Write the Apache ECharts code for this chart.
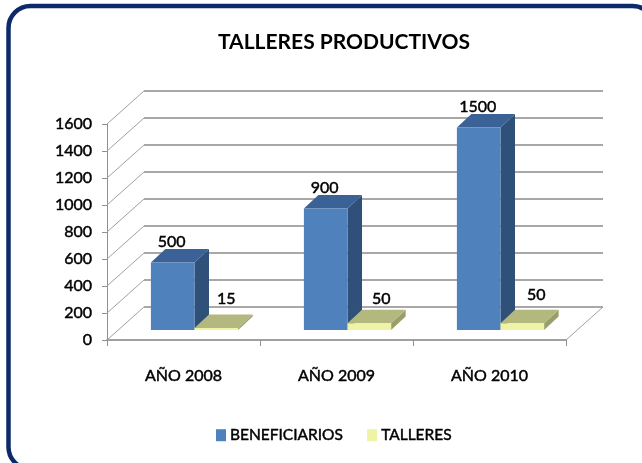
<!DOCTYPE html>
<html>
  <head>
    <meta charset="utf-8" />
    <title>Talleres productivos</title>
    <style>
      html, body { margin: 0; padding: 0; background: #fff; }
      #main { width: 642px; height: 463px; }
    </style>
    <script src="https://cdn.jsdelivr.net/npm/echarts@6/dist/echarts.min.js"></script>
  </head>
  <body>
    <div id="main"></div>
    <script>
      // datos
      var categories = ['AÑO 2008', 'AÑO 2009', 'AÑO 2010']
      var beneficiarios = [500, 900, 1500]
      var talleres = [15, 50, 50]
      var yTicks = [0, 200, 400, 600, 800, 1000, 1200, 1400, 1600]

      var FONT = 'Lato'
      // trazo fino para engordar el texto, Lato no tiene semibold aqui
      var TEXT_STROKE = 0.45
      // profundidad de la pared del fondo y de las barras (px)
      var WALL_DX = 37, WALL_DY = 33
      var FRONT_DX = 11, FRONT_DY = 10
      var DEPTH_DX = 14.5, DEPTH_DY = 13.5
      // ajuste manual de las etiquetas de cada serie
      var blueLabel = [[-1, -20.5], [-1, -20.5], [-1, -20.5]]
      var yellowLabel = [[10, -29.5], [12, -24.5], [14, -28]]

      function barItem(seriesIndex, colors, nudges) {
        return function (params, api) {
          var i = params.dataIndex
          var top = api.coord([i, api.value(1)])
          var base = api.coord([i, 0])
          var w = api.size([1, 0])[0] * 0.285
          var x0 = top[0] + FRONT_DX + (seriesIndex === 0 ? -w : 0)
          var x1 = x0 + w
          var yt = top[1] - FRONT_DY
          var yb = base[1] - FRONT_DY
          var dx = DEPTH_DX, dy = DEPTH_DY
          return {
            type: 'group',
            children: [
              { type: 'polygon', shape: { points: [[x1, yt], [x1 + dx, yt - dy], [x1 + dx, yb - dy], [x1, yb]] }, style: { fill: colors.side } },
              { type: 'polygon', shape: { points: [[x0, yt], [x0 + dx, yt - dy], [x1 + dx, yt - dy], [x1, yt]] }, style: { fill: colors.top } },
              { type: 'rect', shape: { x: x0, y: yt, width: w, height: yb - yt }, style: { fill: colors.front } },
              {
                type: 'text',
                x: (x0 + x1) / 2 + nudges[i][0],
                y: top[1] - FRONT_DY + nudges[i][1],
                style: {
                  text: String(api.value(1)),
                  fill: '#000',
                  stroke: '#000',
                  lineWidth: TEXT_STROKE,
                  font: '16px ' + FONT,
                  align: 'center',
                  verticalAlign: 'middle'
                }
              }
            ]
          }
        }
      }

      var blue = { front: '#4F81BD', top: '#3A6296', side: '#2F5078' }
      var yellow = { front: '#EEF3A6', top: '#B3B87E', side: '#9A9F6A' }

      var myChart = echarts.init(document.getElementById('main'))
      var option = {
        animation: false,
        backgroundColor: '#fff',
        title: {
          text: 'TALLERES PRODUCTIVOS',
          left: 218,
          top: 32,
          padding: 0,
          textStyle: { fontFamily: FONT, fontSize: 21, fontWeight: 'bold', color: '#000' }
        },
        legend: {
          data: ['BENEFICIARIOS', 'TALLERES'],
          left: 216,
          top: 427,
          padding: 0,
          itemWidth: 10,
          itemHeight: 12,
          itemGap: 24,
          icon: 'rect',
          textStyle: { fontFamily: FONT, fontSize: 15.5, color: '#000', textBorderColor: '#000', textBorderWidth: TEXT_STROKE, padding: [0, 0, 0, -1] }
        },
        grid: { left: 107, right: 76, top: 124, bottom: 123 },
        xAxis: {
          type: 'category',
          data: categories,
          axisLine: { lineStyle: { color: '#A0A0A0', width: 2 } },
          axisTick: { show: true, length: 6, lineStyle: { color: '#909090' } },
          axisLabel: { margin: 28, color: '#000', fontFamily: FONT, fontSize: 16, textBorderColor: '#000', textBorderWidth: TEXT_STROKE },
          splitLine: { show: false }
        },
        yAxis: {
          type: 'value',
          min: 0,
          max: 1600,
          interval: 200,
          axisLine: { show: true, lineStyle: { color: '#909090', width: 1 } },
          axisTick: { show: true, length: 5, lineStyle: { color: '#909090' } },
          axisLabel: {
            margin: 15,
            padding: [2, 0, 0, 0],
            color: '#000',
            fontFamily: FONT,
            fontSize: 16,
            textBorderColor: '#000',
            textBorderWidth: TEXT_STROKE,
            formatter: function (v) { return String(v) }
          },
          splitLine: { show: false }
        },
        graphic: [
          {
            type: 'rect',
            z: -1,
            shape: { x: 8.5, y: 6, width: 646, height: 463, r: 22 },
            style: { fill: 'none', stroke: '#0C2A6A', lineWidth: 4.5 }
          }
        ],
        series: [
          {
            // paredes: lineas de profundidad y lineas del fondo
            name: 'paredes',
            type: 'custom',
            coordinateSystem: 'cartesian2d',
            silent: true,
            z: 1,
            data: yTicks.map(function (v) { return ['AÑO 2008', v] }),
            encode: { x: 0, y: 1 },
            renderItem: function (params, api) {
              var v = api.value(1)
              var p = api.coord([0, v])
              var left = p[0] - api.size([1, 0])[0] / 2
              var right = left + params.coordSys.width
              var children = [
                { type: 'polyline', shape: { points: [[left + WALL_DX, p[1] - WALL_DY], [right + WALL_DX, p[1] - WALL_DY]] }, style: { fill: 'none', stroke: '#A8A8A8', lineWidth: 1.8 } },
                { type: 'polyline', shape: { points: [[left, p[1]], [left + WALL_DX, p[1] - WALL_DY]] }, style: { fill: 'none', stroke: '#A0A0A0', lineWidth: 1 } }
              ]
              if (v === 0) {
                children.push({ type: 'polyline', shape: { points: [[right, p[1]], [right + WALL_DX, p[1] - WALL_DY]] }, style: { fill: 'none', stroke: '#A0A0A0', lineWidth: 1 } })
              }
              return { type: 'group', children: children }
            }
          },
          {
            name: 'BENEFICIARIOS',
            type: 'custom',
            coordinateSystem: 'cartesian2d',
            z: 2,
            itemStyle: { color: blue.front },
            data: categories.map(function (c, i) { return [c, beneficiarios[i]] }),
            encode: { x: 0, y: 1 },
            renderItem: barItem(0, blue, blueLabel)
          },
          {
            name: 'TALLERES',
            type: 'custom',
            coordinateSystem: 'cartesian2d',
            z: 3,
            itemStyle: { color: yellow.front },
            data: categories.map(function (c, i) { return [c, talleres[i]] }),
            encode: { x: 0, y: 1 },
            renderItem: barItem(1, yellow, yellowLabel)
          }
        ]
      }
      myChart.setOption(option)
    </script>
  </body>
</html>
